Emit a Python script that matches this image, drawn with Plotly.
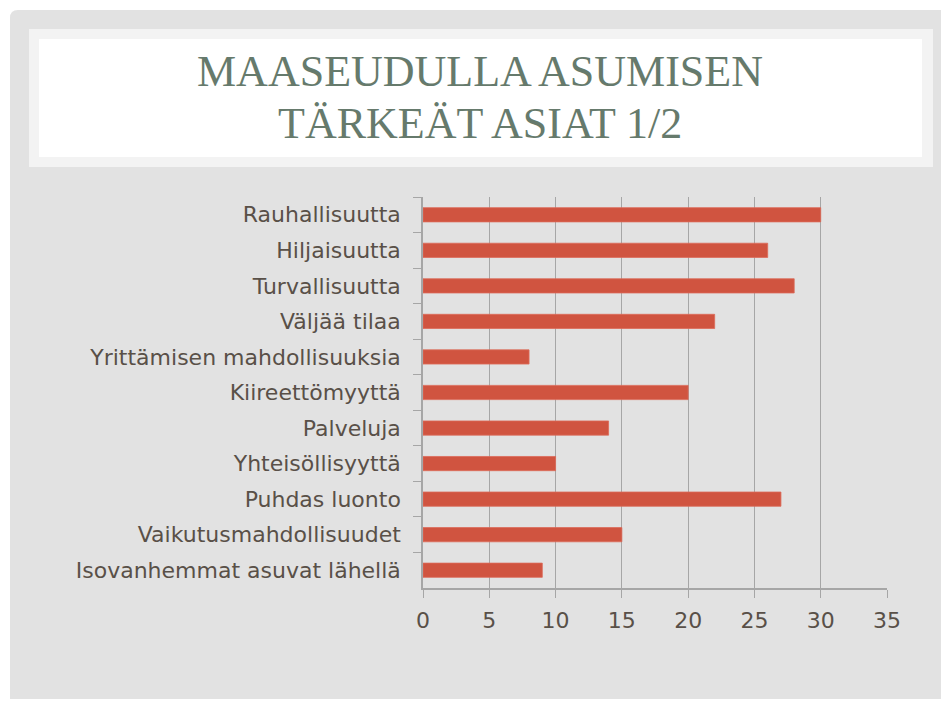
import plotly.graph_objects as go

# data (top to bottom)
categories = [
    "Rauhallisuutta",
    "Hiljaisuutta",
    "Turvallisuutta",
    "Väljää tilaa",
    "Yrittämisen mahdollisuuksia",
    "Kiireettömyyttä",
    "Palveluja",
    "Yhteisöllisyyttä",
    "Puhdas luonto",
    "Vaikutusmahdollisuudet",
    "Isovanhemmat asuvat lähellä",
]
values = [30, 26, 28, 22, 8, 20, 14, 10, 27, 15, 9]
x_ticks = [0, 5, 10, 15, 20, 25, 30, 35]
title_lines = ["MAASEUDULLA ASUMISEN", "TÄRKEÄT ASIAT 1/2"]

W, H = 941, 701
L, T = 423, 197
R, B = W - 887, H - 588
PW, PH = W - L - R, H - T - B


def px(x):
    return (x - L) / PW


def py(y):
    return (H - B - y) / PH


def rect(x0, y0, x1, y1, color):
    return dict(type="rect", xref="paper", yref="paper", layer="below",
                x0=px(x0), x1=px(x1), y0=py(y1), y1=py(y0),
                fillcolor=color, line=dict(width=0))


# slide panel with rounded top-left corner
r = 8
panel_path = (
    f"M {px(10)},{py(699)} L {px(10)},{py(10 + r)} "
    f"Q {px(10)},{py(10)} {px(10 + r)},{py(10)} "
    f"L {px(945)},{py(10)} L {px(945)},{py(699)} Z"
)
shapes = [
    dict(type="path", xref="paper", yref="paper", layer="below", path=panel_path,
         fillcolor="#e2e2e2", line=dict(width=0)),
    rect(29, 29, 933, 167, "#f3f3f3"),
    rect(39, 39, 922, 157, "#ffffff"),
]

fig = go.Figure()
fig.add_trace(go.Bar(
    y=categories,
    x=values,
    orientation="h",
    marker=dict(color="#d05440", line=dict(color="#dc6a58", width=0.8)),
))

label_font = dict(family="DejaVu Sans", size=22, color="#595048")
axis_col = "#a6a6a6"

fig.update_layout(
    width=W, height=H,
    margin=dict(l=L, r=R, t=T, b=B, pad=0),
    paper_bgcolor="#ffffff",
    plot_bgcolor="rgba(0,0,0,0)",
    showlegend=False,
    bargap=0.6,
    shapes=shapes,
    xaxis=dict(
        range=[0, 35], tickvals=x_ticks, showgrid=True, gridcolor=axis_col, gridwidth=1,
        zeroline=False, showline=True, linecolor=axis_col, linewidth=1.5,
        ticks="outside", ticklen=8, tickcolor=axis_col, tickfont=label_font,
        ticklabelstandoff=4,
    ),
    yaxis=dict(
        autorange="reversed", showgrid=False, zeroline=False, showline=True,
        linecolor=axis_col, linewidth=1.5, ticks="outside", ticklen=8,
        tickcolor=axis_col, tickson="boundaries", tickfont=label_font,
        ticklabelstandoff=16,
    ),
)

title_y = [71, 123]
for line, ty in zip(title_lines, title_y):
    fig.add_annotation(
        text=line, xref="paper", yref="paper", x=px(480), y=py(ty),
        xanchor="center", yanchor="middle", showarrow=False,
        font=dict(family="Liberation Serif", size=44, color="#667a6c"),
    )

# drop the default 8px body margin so the figure sits at the page corner
fig.write_html("out.html", config={"displayModeBar": False},
               post_script="document.body.style.margin = '0';")
